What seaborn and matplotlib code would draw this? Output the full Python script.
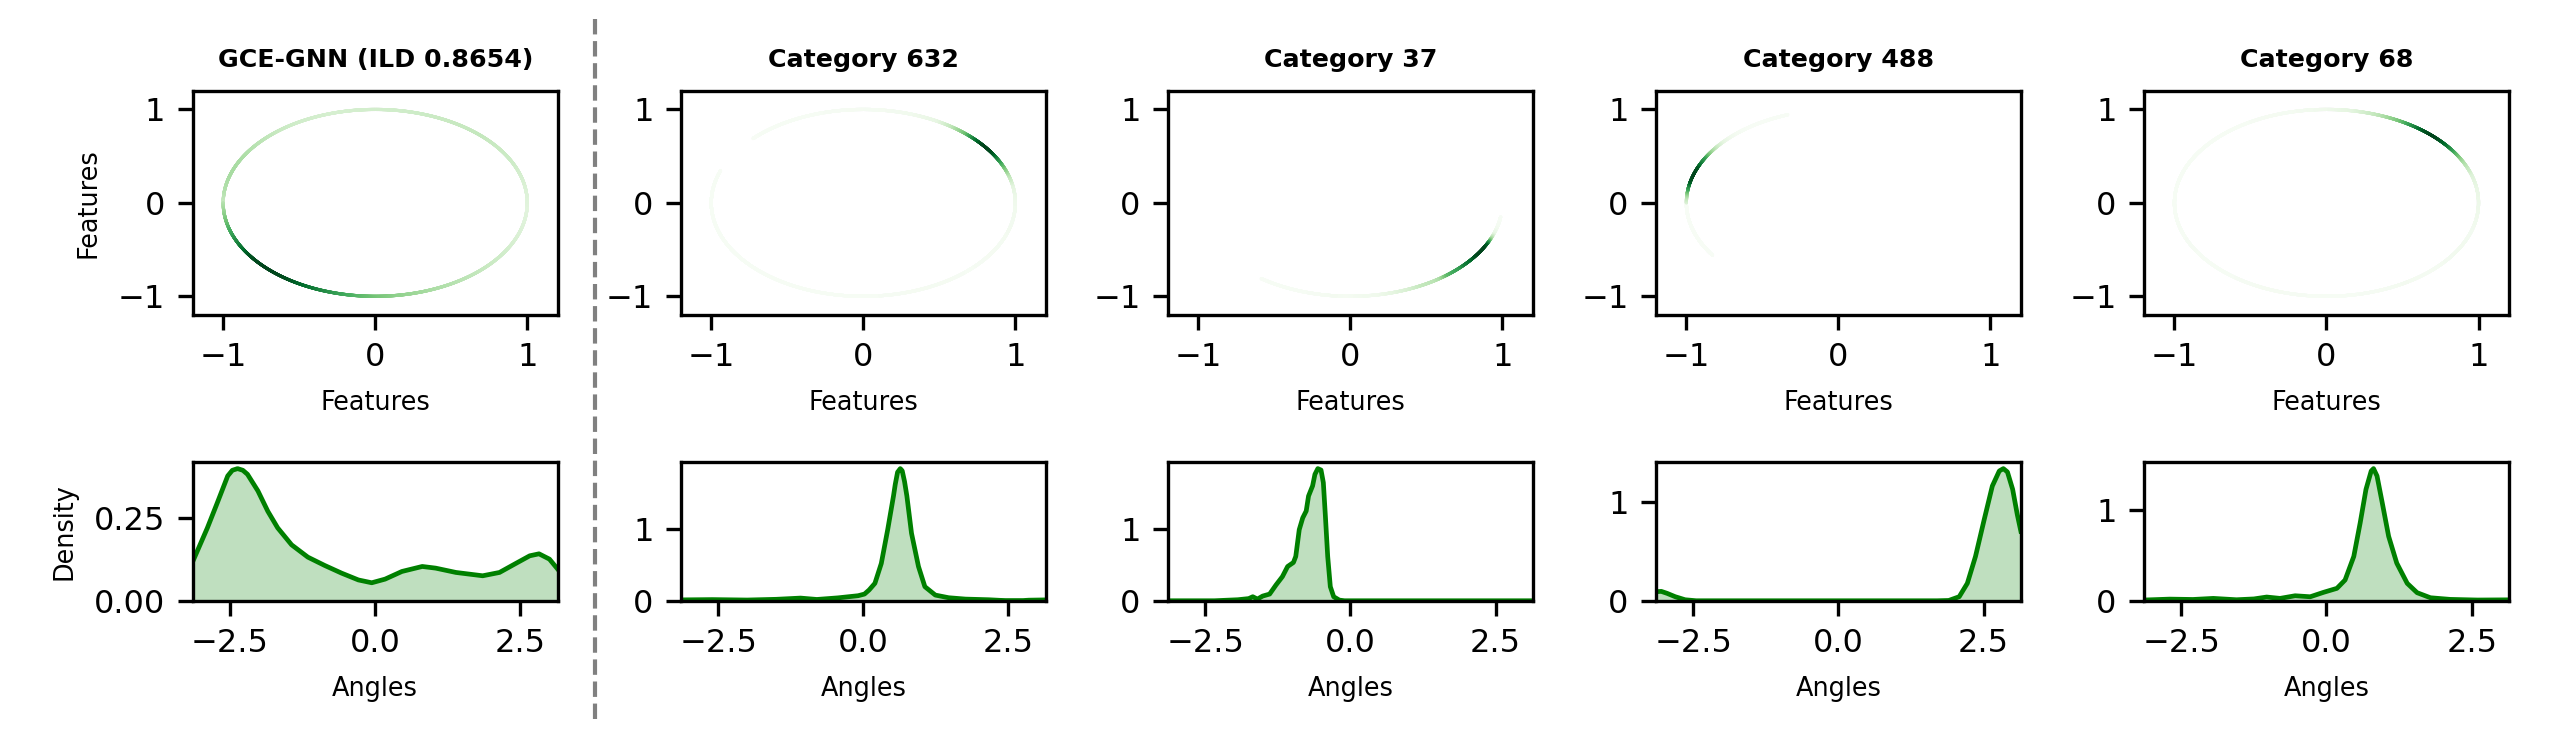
import numpy as np
import pandas as pd
import matplotlib
matplotlib.use("Agg")
import matplotlib.pyplot as plt
import seaborn as sns
from matplotlib.lines import Line2D

# ---------------- data ----------------
titles = ["GCE-GNN (ILD 0.8654)", "Category 632", "Category 37",
          "Category 488", "Category 68"]

angles_gce = [-3.1416, -2.89, -2.72, -2.54, -2.46, -2.37, -2.28, -2.20, -2.02,
              -1.85, -1.68, -1.44, -1.16, -0.87, -0.58, -0.29, -0.06, 0.17,
              0.46, 0.81, 1.04, 1.39, 1.85, 2.14, 2.43, 2.66, 2.82, 3.00, 3.1416]
density_gce = [0.118, 0.219, 0.294, 0.375, 0.392, 0.397, 0.392, 0.380, 0.330,
               0.269, 0.219, 0.168, 0.131, 0.106, 0.083, 0.0625, 0.054, 0.065,
               0.088, 0.103, 0.098, 0.085, 0.075, 0.085, 0.113, 0.135, 0.141,
               0.125, 0.095]

angles_632 = [-3.1416, -2.6, -2.0, -1.5, -1.08, -0.8, -0.44, -0.09, 0.02, 0.10,
              0.20, 0.31, 0.42, 0.52, 0.55, 0.59, 0.637, 0.67, 0.71, 0.75, 0.83,
              0.95, 1.06, 1.24, 1.47, 1.76, 2.16, 2.35, 2.45, 2.75, 2.85, 3.1416]
density_632 = [0.012, 0.016, 0.010, 0.020, 0.037, 0.018, 0.040, 0.070, 0.093,
               0.150, 0.243, 0.520, 0.990, 1.460, 1.620, 1.790, 1.840, 1.810,
               1.660, 1.460, 0.940, 0.477, 0.196, 0.079, 0.042, 0.023, 0.014,
               0.006, 0.003, 0.003, 0.008, 0.012]

angles_37 = [-3.1416, -2.34, -1.94, -1.75, -1.68, -1.60, -1.51, -1.39, -1.28,
             -1.17, -1.08, -0.98, -0.94, -0.88, -0.82, -0.76, -0.72, -0.65,
             -0.61, -0.56, -0.505, -0.465, -0.43, -0.39, -0.345, -0.287, -0.19,
             -0.10, 3.1416]
density_37 = [0.0, 0.0, 0.014, 0.030, 0.056, 0.023, 0.065, 0.093, 0.220,
              0.336, 0.477, 0.533, 0.617, 0.990, 1.154, 1.250, 1.458, 1.600,
              1.760, 1.840, 1.820, 1.645, 1.180, 0.617, 0.196, 0.056, 0.009,
              0.0, 0.0]

angles_488 = [-3.1416, -3.05, -2.95, -2.81, -2.64, -2.45, 1.70, 1.90, 2.08,
              2.22, 2.36, 2.51, 2.65, 2.77, 2.84, 2.91, 3.00, 3.08, 3.1416]
density_488 = [0.092, 0.095, 0.075, 0.041, 0.010, 0.0, 0.0, 0.003, 0.041,
               0.177, 0.449, 0.823, 1.163, 1.316, 1.340, 1.306, 1.130, 0.874,
               0.704]

angles_68 = [-3.1416, -2.70, -2.30, -1.95, -1.55, -1.25, -1.03, -0.80, -0.54,
             -0.28, -0.05, 0.18, 0.32, 0.47, 0.58, 0.68, 0.77, 0.81, 0.87, 0.96,
             1.07, 1.21, 1.39, 1.56, 1.79, 2.13, 2.60, 3.1416]
density_68 = [0.008, 0.018, 0.014, 0.026, 0.011, 0.020, 0.041, 0.026, 0.055,
              0.044, 0.093, 0.137, 0.229, 0.489, 0.859, 1.229, 1.432, 1.458,
              1.377, 1.081, 0.711, 0.415, 0.192, 0.089, 0.033, 0.015, 0.008,
              0.010]

panels = [(angles_gce, density_gce), (angles_632, density_632),
          (angles_37, density_37), (angles_488, density_488),
          (angles_68, density_68)]

feature_ticks = [-1, 0, 1]
angle_ticks = [-2.5, 0.0, 2.5]
density_ticks = [[0.0, 0.25], [0, 1], [0, 1], [0, 1], [0, 1]]

# ---------------- styling / layout ----------------
plt.rcParams.update({
    "font.family": ["DejaVu Sans"],
    "axes.linewidth": 1.2,
    "xtick.major.size": 5.25,
    "ytick.major.size": 5.25,
    "xtick.major.width": 1.2,
    "ytick.major.width": 1.2,
    "xtick.major.pad": 4.6,
    "ytick.major.pad": 4.6,
    "xtick.labelsize": 11.5,
    "ytick.labelsize": 11.5,
    "axes.labelpad": 6.0,
    "axes.titlepad": 8.5,
})
label_size = 9.2
title_size = 9.1

color_gamma = [1.0, 1.0, 1.0, 3.0, 1.0]
lefts = [0.0756, 0.2670, 0.4580, 0.6494, 0.8408]
width = 0.1431
top_bottom, top_height = 0.580, 0.299
bot_bottom, bot_height = 0.199, 0.185

fig = plt.figure(figsize=(12.75, 3.75), dpi=200)
ring_theta = np.linspace(-np.pi, np.pi, 3600)

for i, (title, (ang, dens)) in enumerate(zip(titles, panels)):
    a = np.asarray(ang, dtype=float)
    d = np.asarray(dens, dtype=float)

    # --- top: features on the unit circle coloured by density ---
    ax_t = fig.add_axes([lefts[i], top_bottom, width, top_height])
    dd = np.interp(ring_theta, a, d)
    keep = dd > 0.005
    ring = pd.DataFrame({
        "x": np.cos(ring_theta[keep]),
        "y": np.sin(ring_theta[keep]),
        "v": (dd[keep] / d.max()) ** color_gamma[i],
    }).sort_values("v")
    sns.scatterplot(data=ring, x="x", y="y", hue="v", palette="Greens",
                    hue_norm=(0, 1), s=1.3, linewidth=0, legend=False, ax=ax_t)
    ax_t.set_xlim(-1.2, 1.2)
    ax_t.set_ylim(-1.2, 1.2)
    ax_t.set_xticks(feature_ticks)
    ax_t.set_yticks(feature_ticks)
    ax_t.set_xlabel("Features", fontsize=label_size)
    ax_t.set_ylabel("Features" if i == 0 else "", fontsize=label_size)
    ax_t.set_title(title, fontsize=title_size, fontweight="bold")

    # --- bottom: density of angles ---
    ax_b = fig.add_axes([lefts[i], bot_bottom, width, bot_height])
    sns.lineplot(x=a, y=d, color="green", linewidth=1.7, ax=ax_b)
    ax_b.fill_between(a, d, color="green", alpha=0.25, linewidth=0)
    ax_b.set_xlim(-np.pi, np.pi)
    ax_b.set_ylim(0, d.max() * 1.05)
    ax_b.set_xticks(angle_ticks)
    ax_b.set_yticks(density_ticks[i])
    ax_b.set_xlabel("Angles", fontsize=label_size)
    ax_b.set_ylabel("Density" if i == 0 else "", fontsize=label_size)

fig.add_artist(Line2D([0.2333, 0.2333], [0.041, 0.983],
                      transform=fig.transFigure, color="gray",
                      linestyle="--", linewidth=1.5))

fig.savefig("out.png", dpi=200, facecolor="white")
